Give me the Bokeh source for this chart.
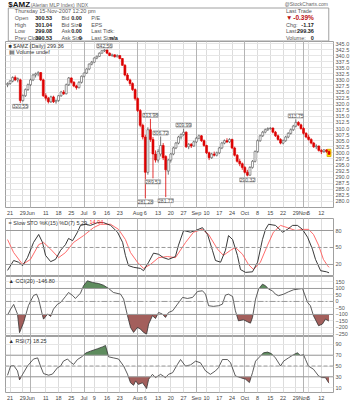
import numpy as np
from bokeh.plotting import figure
from bokeh.layouts import column
from bokeh.models import (Range1d, FixedTicker, Grid, ColumnDataSource, LabelSet,
                          Label, Span)
from bokeh.core.properties import value
from bokeh.embed import file_html
from bokeh.resources import INLINE

FONT = "Liberation Sans"

# ---------------- data ----------------
bar_idx = list(range(127))   # trading days, 18-May-2007 .. 15-Nov-2007

opens = [328.0, 328.5, 329.5, 331.0, 330.0, 330.0, 321.5, 323.5, 326.0, 328.0,
         330.0, 332.0, 332.5, 333.0, 330.0, 323.5, 322.5, 321.0, 323.0, 321.0,
         321.5, 323.5, 325.0, 324.3, 328.0, 330.8, 329.0, 327.5, 326.8, 329.0,
         331.5, 332.8, 334.5, 336.5, 337.3, 339.0, 339.7, 341.0, 342.0, 342.3,
         341.0, 340.0, 340.3, 339.5, 340.0, 338.8, 336.0, 332.0, 330.0, 328.5,
         326.0, 322.3, 317.4, 311.3, 306.5, 292.0, 309.5, 305.5, 299.5, 297.0,
         299.5, 303.0, 298.5, 292.5, 297.0, 299.5, 302.0, 304.0, 306.5, 307.5,
         308.5, 302.5, 303.5, 302.8, 304.5, 306.0, 307.0, 305.0, 303.0, 300.0,
         298.0, 299.5, 299.0, 300.0, 302.0, 304.0, 305.0, 304.5, 305.5, 302.0,
         299.0, 296.5, 295.5, 294.0, 292.0, 290.8, 294.0, 296.5, 300.5, 305.0,
         307.0, 308.5, 309.5, 310.0, 310.2, 308.5, 307.0, 305.5, 304.0, 305.0,
         306.5, 308.0, 309.5, 311.0, 312.5, 311.5, 310.0, 308.0, 306.5, 305.5,
         304.0, 302.5, 302.8, 301.0, 300.5, 301.2, 300.53]
highs = [329.0, 330.0, 331.5, 331.8, 331.0, 330.5, 324.0, 326.5, 328.5, 330.5,
         332.5, 333.0, 333.6, 333.2, 330.5, 324.5, 323.0, 323.5, 323.5, 322.0,
         323.8, 325.5, 325.8, 328.5, 331.2, 331.0, 329.5, 328.0, 329.5, 331.8,
         333.0, 334.8, 336.8, 337.8, 339.3, 340.0, 341.3, 342.2, 342.56, 342.4,
         341.3, 340.8, 340.5, 340.5, 340.2, 339.0, 336.5, 332.8, 330.5, 329.0,
         326.5, 322.8, 318.0, 312.0, 307.5, 310.5, 313.98, 306.5, 301.0, 301.5,
         306.72, 304.0, 299.0, 297.5, 300.0, 302.5, 304.5, 307.0, 308.0, 309.99,
         308.8, 304.0, 304.0, 305.0, 306.5, 307.5, 307.3, 305.5, 303.3, 300.5,
         300.0, 300.5, 300.5, 302.5, 304.5, 305.5, 306.0, 306.0, 305.8, 302.5,
         299.5, 297.5, 296.0, 294.5, 293.0, 294.5, 297.0, 301.0, 305.5, 307.5,
         309.0, 310.0, 310.5, 310.5, 310.4, 309.0, 307.5, 306.0, 305.5, 307.0,
         308.5, 310.0, 311.5, 313.75, 313.0, 312.0, 310.5, 308.5, 307.5, 306.0,
         304.5, 303.5, 303.0, 301.5, 301.5, 301.5, 301.04]
lows = [327.0, 328.0, 329.0, 329.5, 329.0, 320.55, 321.0, 323.0, 325.5, 327.5,
        329.5, 331.0, 331.5, 329.5, 323.0, 321.5, 320.3, 320.5, 320.5, 320.2,
        321.0, 323.0, 323.8, 324.0, 327.5, 328.5, 327.0, 326.0, 326.5, 328.5,
        331.0, 332.5, 334.0, 336.0, 337.0, 338.5, 339.5, 340.8, 341.5, 340.8,
        339.8, 339.5, 339.2, 339.3, 338.5, 335.8, 331.5, 329.5, 327.5, 325.5,
        321.5, 316.8, 310.5, 305.5, 281.28, 291.0, 304.5, 289.51, 296.0, 296.0,
        298.5, 297.0, 281.77, 291.0, 296.0, 299.0, 301.5, 303.5, 305.5, 307.0,
        302.0, 301.5, 302.0, 302.5, 304.0, 305.5, 304.5, 302.5, 299.5, 297.0,
        297.5, 298.5, 298.5, 299.5, 301.5, 303.5, 304.0, 304.0, 301.5, 298.5,
        296.0, 294.5, 293.0, 291.5, 290.32, 290.5, 293.5, 296.0, 300.0, 304.5,
        306.5, 308.0, 309.0, 309.5, 308.0, 306.5, 305.0, 303.5, 303.5, 304.5,
        306.0, 307.5, 309.0, 310.5, 311.0, 309.5, 307.5, 306.0, 305.0, 303.5,
        302.0, 301.5, 300.5, 299.5, 300.0, 300.0, 299.08]
closes = [328.5, 329.5, 331.0, 330.0, 330.5, 321.5, 323.5, 326.0, 328.0, 330.0,
          332.0, 332.5, 333.0, 330.0, 323.5, 322.5, 321.0, 323.0, 321.0, 321.5,
          323.5, 325.0, 324.3, 328.0, 330.8, 329.0, 327.5, 326.8, 329.0, 331.5,
          332.8, 334.5, 336.5, 337.3, 339.0, 339.7, 341.0, 342.0, 342.3, 341.0,
          340.0, 340.3, 339.5, 340.0, 338.8, 336.0, 332.0, 330.0, 328.5, 326.0,
          322.3, 317.4, 311.3, 306.5, 292.0, 309.5, 305.5, 299.5, 297.0, 300.5,
          303.0, 298.0, 293.0, 297.0, 299.5, 302.0, 304.0, 306.5, 307.5, 308.5,
          302.5, 303.5, 302.8, 304.5, 306.0, 307.0, 305.0, 303.0, 300.0, 298.0,
          299.5, 299.0, 300.0, 302.0, 304.0, 305.0, 304.5, 305.5, 302.0, 299.0,
          296.5, 295.5, 294.0, 292.0, 290.8, 294.0, 296.5, 300.5, 305.0, 307.0,
          308.5, 309.5, 310.0, 310.2, 308.5, 307.0, 305.5, 304.0, 305.0, 306.5,
          308.0, 309.5, 311.0, 312.5, 311.5, 310.0, 308.0, 306.5, 305.5, 304.0,
          302.5, 302.8, 301.0, 300.5, 301.2, 300.53, 299.36]

# annotated extremes on the price chart
ann_idx = [5, 38, 54, 56, 57, 60, 62, 69, 94, 113]
ann_text = ["320.55", "342.56", "281.28", "313.98", "289.51", "306.72", "281.77",
            "309.99", "290.32", "313.75"]
ann_side = ["below", "above", "below", "above", "below", "above", "below",
            "above", "below", "above"]

# date axis
date_tick_idx = [1, 6, 9, 15, 20, 25, 30, 34, 39, 44, 51, 54, 59, 64, 69, 74, 78,
                 83, 88, 93, 98, 103, 108, 113, 116, 118, 123]
date_tick_lbl = ["21", "29", "Jun", "11", "18", "25", "Jul", "9", "16", "23", "Aug",
                 "6", "13", "20", "27", "Sep", "10", "17", "24", "Oct", "8", "15",
                 "22", "29", "Nov", "5", "12"]
month_tick_idx = [9, 30, 51, 74, 93, 116]

price_ticks = [280.0, 282.5, 285.0, 287.5, 290.0, 292.5, 295.0, 297.5, 300.0, 302.5,
               305.0, 307.5, 310.0, 312.5, 315.0, 317.5, 320.0, 322.5, 325.0, 327.5,
               330.0, 332.5, 335.0, 337.5, 340.0, 342.5, 345.0]

# Slow Stochastics %K(15) %D(7)
sto_k_idx = [0, 2.4, 4.3, 5.9, 7.8, 10.2, 12.2, 13.7, 14.9, 16.9, 18.8, 20.8, 22.7,
             23.9, 25.5, 27.4, 28.6, 30.6, 32.5, 35.3, 37.6, 40.4, 43.1, 45.1, 46.2,
             47.4, 49.4, 52.1, 53.3, 55.3, 57.2, 59.2, 61.1, 63.1, 65.8, 67.0, 69.0,
             71.7, 73.7, 76.4, 78.4, 80.3, 81.5, 83.5, 85.4, 86.6, 88.2, 90.1, 91.3,
             93.3, 96.0, 98.0, 99.9, 101.1, 102.3, 105.0, 107.8, 109.7, 111.7,
             113.6, 115.6, 117.6, 119.5, 120.7, 122.7, 125.0, 126]
sto_k_val = [9.5, 27, 24, 18, 32, 59, 73, 59, 36, 25, 29, 45, 55, 66, 62, 77, 89, 91,
             89, 94, 94, 89, 77, 59, 36, 18, 15, 13, 9, 24, 40, 38, 32, 29, 34, 54,
             80, 77, 80, 85, 73, 45, 27, 24, 45, 71, 64, 36, 11, 6, 7, 24, 64, 82,
             91, 89, 77, 82, 89, 89, 82, 68, 47, 29, 9, 7, 5.29]
sto_d_idx = [0, 2.4, 5.9, 9.0, 12.2, 14.1, 16.9, 20.0, 22.7, 25.9, 29.8, 33.7, 36.4,
             40.4, 43.5, 46.2, 48.2, 50.9, 53.3, 56.0, 59.2, 62.7, 65.8, 69.8, 72.9,
             76.4, 78.8, 82.3, 84.6, 87.4, 89.3, 92.1, 94.4, 96.4, 99.1, 101.9,
             104.2, 107.0, 109.7, 112.9, 116.0, 118.0, 119.9, 121.9, 123.8, 125.4,
             126]
sto_d_val = [64, 41, 20, 29, 55, 59, 47, 32, 41, 59, 71, 85, 91, 91, 82, 64, 41, 24,
             13, 20, 32, 34, 32, 59, 77, 82, 73, 47, 36, 45, 50, 38, 20, 11, 24, 54,
             77, 89, 85, 80, 82, 82, 73, 54, 29, 18, 14.94]
sto_levels = [20, 80]
sto_mid = 50

# CCI(20)
cci_idx = [0, 1.2, 2.4, 3.9, 4.7, 6.3, 8.2, 10.2, 11.4, 12.2, 13.7, 14.1, 15.7, 16.9,
           18.0, 19.6, 20.8, 22.7, 23.9, 25.5, 26.6, 28.6, 29.8, 31.3, 33.3, 35.7,
           37.6, 39.6, 41.5, 44.3, 45.5, 47.0, 48.2, 49.4, 50.9, 52.1, 53.3, 54.5,
           55.3, 56.8, 58.0, 59.2, 60.7, 61.9, 63.1, 64.7, 66.6, 68.6, 70.5, 72.5,
           74.5, 76.4, 77.6, 78.8, 80.7, 82.7, 84.2, 85.4, 86.6, 88.2, 89.3, 90.5,
           92.5, 94.0, 95.2, 96.0, 97.2, 98.4, 99.9, 101.1, 102.3, 103.8, 105.0,
           106.2, 108.2, 110.1, 112.1, 114.0, 115.6, 116.4, 117.6, 118.7, 119.9,
           121.9, 123.4, 124.6, 125.8, 126]
cci_val = [-105, -59, -23, -97, -240, -162, -31, 46, 56, 18, -108, -136, -97, -115,
           -59, -21, -8, 38, 69, 46, 23, 64, 121, 159, 146, 138, 125, 100, 69, 56,
           18, -108, -200, -238, -200, -213, -238, -251, -174, -110, -131, -85, -97,
           -123, -85, -72, -21, 31, 23, 31, 77, 82, 56, -33, -38, -33, -21, 49, 56,
           38, -72, -149, -141, -156, -167, -123, 18, 95, 133, 121, 95, 82, 56, 44,
           56, 74, 90, 95, 100, 56, -8, -33, -110, -187, -174, -136, -149, -146.80]
cci_levels = [-100, 100]
cci_ticks = [-250, -200, -150, -100, -50, 0, 50, 100, 150]

# RSI(7)
rsi_idx = [0, 1.2, 2.4, 3.9, 4.7, 5.9, 7.8, 10.2, 11.8, 12.9, 14.1, 16.1, 17.6, 19.6,
           20.8, 21.9, 23.5, 24.7, 25.9, 27.4, 29.4, 30.6, 32.5, 35.3, 37.2, 38.4,
           39.6, 41.5, 43.5, 45.5, 47.0, 48.2, 49.4, 50.2, 51.3, 52.9, 54.5, 55.3,
           56.8, 58.0, 60.0, 61.9, 63.1, 64.7, 66.6, 67.8, 69.7, 71.7, 73.7, 75.6,
           77.6, 79.5, 81.5, 82.7, 84.2, 86.2, 87.4, 89.3, 91.3, 93.3, 94.8, 96.0,
           97.2, 98.4, 100.3, 101.9, 103.4, 105.0, 107.0, 108.2, 110.1, 112.1,
           113.6, 114.8, 116.0, 116.8, 117.9, 119.9, 121.9, 123.4, 124.6, 125.8, 126]
rsi_val = [32.8, 50, 51, 41, 24.3, 34.6, 50, 63, 65, 50, 36, 33, 35, 47, 50, 59, 63,
           57, 53, 62, 68, 74, 77.5, 82, 85.4, 88, 67, 65, 63, 50, 35, 19, 14.4, 22.5,
           16, 19, 8.4, 25.5, 34.6, 28.5, 34.6, 28.5, 34.6, 37.7, 53, 62, 50, 52, 59,
           56, 41, 34.6, 41, 47, 62, 62, 56, 31.6, 28.5, 25.5, 19.4, 37.7, 59, 65,
           74.4, 75.7, 73, 65, 50, 59, 65, 71, 74.4, 69.5, 71, 62, 50, 44, 31.6, 28.5,
           28.5, 19.4, 18.25]
rsi_levels = [30, 70]
rsi_ticks = [10, 30, 50, 70, 90]

GREEN = "#5e8c5e"
BROWN = "#a35f5c"
UPRED = "#dd0000"

# ---------------- helpers ----------------
XR = Range1d(-0.8, 127.75)


def style_axis(ax, standoff=2, color="#555555"):
    ax.major_label_text_font = FONT
    ax.major_label_text_font_size = "5.5px"
    ax.major_label_text_color = color
    ax.axis_line_color = None
    ax.major_tick_line_color = None
    ax.minor_tick_line_color = None
    ax.major_tick_out = 0
    ax.major_tick_in = 0
    ax.major_label_standoff = standoff


def panel(frame_h, yr, with_xaxis):
    p = figure(frame_width=328, frame_height=frame_h, x_range=XR, y_range=yr,
               y_axis_location="right",
               x_axis_type="linear" if with_xaxis else None,
               toolbar_location=None, output_backend="svg", title=None,
               min_border_left=5, min_border_right=1, min_border_top=0,
               min_border_bottom=1, outline_line_color="#a0a0a0",
               background_fill_color="white", border_fill_color="white")
    style_axis(p.yaxis[0])
    if with_xaxis:
        ax = p.xaxis[0]
        ax.ticker = FixedTicker(ticks=date_tick_idx)
        ax.major_label_overrides = {t: l for t, l in zip(date_tick_idx, date_tick_lbl)}
        style_axis(ax, standoff=2, color="#444444")
        p.xgrid.grid_line_color = "#dcdcdc"
    else:
        p.add_layout(Grid(dimension=0, ticker=FixedTicker(ticks=date_tick_idx),
                          grid_line_color="#dcdcdc"))
    p.add_layout(Grid(dimension=0, ticker=FixedTicker(ticks=month_tick_idx),
                      grid_line_color="#b4b4b4"))
    return p


def panel_label(p, text, xoff=3, color="#333333"):
    p.add_layout(Label(x=XR.start, y=p.y_range.end, x_offset=xoff, y_offset=-1,
                       text=text, text_baseline="top", text_font=FONT,
                       text_font_size="5.5px", text_color=color))


def clip_fill(xs, ys, level, above):
    xo, yo = [], []
    for k in range(len(xs)):
        if k > 0:
            y0, y1 = ys[k - 1], ys[k]
            if (y0 - level) * (y1 - level) < 0:
                t = (level - y0) / (y1 - y0)
                xo.append(xs[k - 1] + t * (xs[k] - xs[k - 1]))
                yo.append(level)
        xo.append(xs[k])
        yo.append(ys[k])
    yo = np.array(yo, dtype=float)
    y2 = np.maximum(yo, level) if above else np.minimum(yo, level)
    return xo, y2


# ---------------- header ----------------
hdr = figure(width=351, height=41, x_range=Range1d(0, 351), y_range=Range1d(41, 0),
             x_axis_type=None, y_axis_type=None, toolbar_location=None,
             output_backend="svg", title=None, min_border=0,
             outline_line_color=None)
hdr.grid.visible = False
hdr.quad(left=[3], right=[347], top=[7.5], bottom=[40.5], fill_color="white",
         line_color="#a0a0a0", line_width=1)

rows_y = [10.5, 17.3, 24.1, 30.9, 37.5]
hdr_items = [
    # x, y, text, align, style, color, size
    (3, 3.5, "$AMZ", "left", "bold", "#111111", "8px"),
    (27, 4, "(Alerian MLP Index) INDX", "left", "normal", "#666666", "5px"),
    (346, 3.5, "@StockCharts.com", "right", "normal", "#666666", "5px"),
    (10, rows_y[0], "Thursday 15-Nov-2007 12:20 pm", "left", "normal", "#555555", "5.5px"),
    (10, rows_y[1], "Open", "left", "normal", "#555555", "5.5px"),
    (10, rows_y[2], "High", "left", "normal", "#555555", "5.5px"),
    (10, rows_y[3], "Low", "left", "normal", "#555555", "5.5px"),
    (10, rows_y[4], "Prev Close", "left", "normal", "#555555", "5.5px"),
    (50, rows_y[1], "300.53", "right", "bold", "#222222", "5.5px"),
    (50, rows_y[2], "301.04", "right", "bold", "#222222", "5.5px"),
    (50, rows_y[3], "299.08", "right", "bold", "#222222", "5.5px"),
    (50, rows_y[4], "300.53", "right", "bold", "#222222", "5.5px"),
    (60, rows_y[1], "Bid", "left", "normal", "#555555", "5.5px"),
    (60, rows_y[2], "Bid Size", "left", "normal", "#555555", "5.5px"),
    (60, rows_y[3], "Ask", "left", "normal", "#555555", "5.5px"),
    (60, rows_y[4], "Ask Size", "left", "normal", "#555555", "5.5px"),
    (82, rows_y[1], "0.00", "right", "bold", "#222222", "5.5px"),
    (82, rows_y[2], "0", "right", "bold", "#222222", "5.5px"),
    (82, rows_y[3], "0.00", "right", "bold", "#222222", "5.5px"),
    (82, rows_y[4], "0", "right", "bold", "#222222", "5.5px"),
    (92, rows_y[1], "P/E", "left", "normal", "#555555", "5.5px"),
    (92, rows_y[2], "EPS", "left", "normal", "#555555", "5.5px"),
    (92, rows_y[3], "Last Tick:", "left", "normal", "#555555", "5.5px"),
    (92, rows_y[4], "Last Size:", "left", "normal", "#555555", "5.5px"),
    (110, rows_y[3], "\u2191", "left", "bold", "#222222", "6px"),
    (112, rows_y[4], "n/a", "left", "bold", "#222222", "5.5px"),
    (301, rows_y[0], "Last Trade", "left", "normal", "#555555", "5.5px"),
    (301, rows_y[1], "\u25bc", "left", "normal", "#bb1111", "6.5px"),
    (331, rows_y[1], "-0.39%", "right", "bold", "#bb1111", "6.5px"),
    (301, rows_y[2], "Chg:", "left", "normal", "#555555", "5.5px"),
    (331, rows_y[2], "-1.17", "right", "bold", "#222222", "5.5px"),
    (301, rows_y[3], "Last:", "left", "normal", "#555555", "5.5px"),
    (331, rows_y[3], "299.36", "right", "bold", "#222222", "5.5px"),
    (301, rows_y[4], "Volume:", "left", "normal", "#555555", "5.5px"),
    (331, rows_y[4], "0", "right", "bold", "#222222", "5.5px"),
]
hsrc = ColumnDataSource(dict(
    x=[h[0] for h in hdr_items], y=[h[1] for h in hdr_items],
    text=[h[2] for h in hdr_items], align=[h[3] for h in hdr_items],
    fstyle=[h[4] for h in hdr_items], color=[h[5] for h in hdr_items],
    size=[h[6] for h in hdr_items]))
hdr.text(x="x", y="y", text="text", source=hsrc, text_align="align",
         text_baseline="middle", text_font=value(FONT), text_font_style="fstyle",
         text_color="color", text_font_size="size")

# ---------------- price panel ----------------
pp = panel(166, Range1d(277.5, 345.8), True)
pp.yaxis[0].ticker = FixedTicker(ticks=price_ticks)
pp.yaxis[0].major_label_overrides = {t: f"{t:.1f}" for t in price_ticks}
pp.ygrid.grid_line_color = "#e6e6e6"

o = np.array(opens); c = np.array(closes)
down = c < o
src = ColumnDataSource(dict(
    x=bar_idx, h=highs, l=lows, top=np.maximum(o, c), bot=np.minimum(o, c),
    fill=[UPRED if d else "#ffffff" for d in down],
    line=[UPRED if d else "#555555" for d in down]))
last = bar_idx[-1]
pp.vbar(x=[last], top=[max(opens[-1], closes[-1]) + 0.9],
        bottom=[min(opens[-1], closes[-1]) - 0.9], width=1.5,
        fill_color="#ffee00", line_color="#e0b000")
pp.segment(x0="x", y0="h", x1="x", y1="l", source=src, line_color="line",
           line_width=0.8)
pp.vbar(x="x", top="top", bottom="bot", width=0.78, source=src,
        fill_color="fill", line_color="line", line_width=0.6)

ab = [k for k, s in enumerate(ann_side) if s == "above"]
bl = [k for k, s in enumerate(ann_side) if s == "below"]
for sel, ycol, base, off in ((ab, highs, "bottom", 1.5), (bl, lows, "top", -1.5)):
    s = ColumnDataSource(dict(x=[ann_idx[k] for k in sel],
                              y=[ycol[ann_idx[k]] for k in sel],
                              t=[ann_text[k] for k in sel]))
    pp.add_layout(LabelSet(x="x", y="y", text="t", source=s, text_align="center",
                           text_baseline=base, y_offset=off,
                           text_font=value(FONT), text_font_size="5px",
                           text_color="#555555", background_fill_color="white",
                           border_line_color="#aaaaaa"))

panel_label(pp, "\u25a0 $AMZ (Daily) 299.36")
pp.add_layout(Label(x=XR.start, y=pp.y_range.end, x_offset=3, y_offset=-7,
                    text="\u25a4 Volume undef", text_baseline="top", text_font=FONT,
                    text_font_size="5.5px", text_color="#333333"))

# ---------------- slow stochastics ----------------
ps = panel(57, Range1d(0.5, 101.2), False)
ps.yaxis[0].ticker = FixedTicker(ticks=[20, 50, 80])
ps.ygrid.visible = False
for lv in sto_levels:
    ps.add_layout(Span(location=lv, dimension="width", line_color="#9a9a9a", line_width=1))
ps.add_layout(Span(location=sto_mid, dimension="width", line_color="#9a9a9a",
                   line_width=1, line_dash="4 2"))
ps.line(sto_d_idx, sto_d_val, line_color="#ff5a5a", line_width=0.9)
ps.line(sto_k_idx, sto_k_val, line_color="#222222", line_width=0.9)
panel_label(ps, "= Slow STO %K(15) %D(7) 5.29,")
panel_label(ps, "14.94", xoff=84, color="#ff3333")

# ---------------- CCI ----------------
pc = panel(59, Range1d(-262, 192), False)
pc.yaxis[0].ticker = FixedTicker(ticks=cci_ticks)
pc.ygrid.grid_line_color = "#e6e6e6"
xa, ya = clip_fill(cci_idx, cci_val, cci_levels[1], True)
pc.varea(x=xa, y1=cci_levels[1], y2=ya, fill_color=GREEN)
xb, yb = clip_fill(cci_idx, cci_val, cci_levels[0], False)
pc.varea(x=xb, y1=cci_levels[0], y2=yb, fill_color=BROWN)
for lv in cci_levels:
    pc.add_layout(Span(location=lv, dimension="width", line_color="#9a9a9a", line_width=1))
pc.add_layout(Span(location=0, dimension="width", line_color="#9a9a9a",
                   line_width=1, line_dash="6 2 2 2"))
pc.line(cci_idx, cci_val, line_color="#333333", line_width=0.8)
panel_label(pc, "\u25b2 CCI(20) -146.80")

# ---------------- RSI ----------------
pr = panel(56, Range1d(1, 104.6), True)
pr.yaxis[0].ticker = FixedTicker(ticks=rsi_ticks)
pr.ygrid.grid_line_color = "#e6e6e6"
xa, ya = clip_fill(rsi_idx, rsi_val, rsi_levels[1], True)
pr.varea(x=xa, y1=rsi_levels[1], y2=ya, fill_color=GREEN)
xb, yb = clip_fill(rsi_idx, rsi_val, rsi_levels[0], False)
pr.varea(x=xb, y1=rsi_levels[0], y2=yb, fill_color=BROWN)
for lv in rsi_levels:
    pr.add_layout(Span(location=lv, dimension="width", line_color="#9a9a9a", line_width=1))
pr.add_layout(Span(location=50, dimension="width", line_color="#9a9a9a",
                   line_width=1, line_dash="4 2"))
pr.line(rsi_idx, rsi_val, line_color="#333333", line_width=0.8)
panel_label(pr, "\u25b2 RSI(7) 18.25")

layout = column(hdr, pp, ps, pc, pr, spacing=0)
open("out.html", "w").write(file_html(layout, INLINE))
